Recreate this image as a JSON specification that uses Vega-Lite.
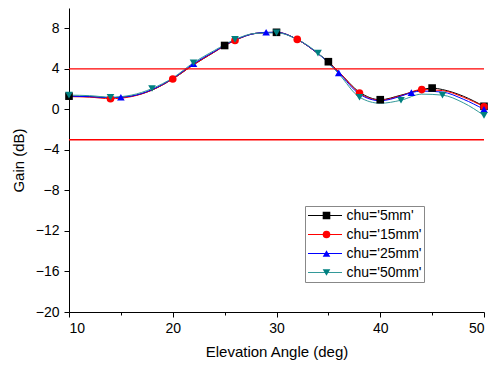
{
  "$schema": "https://vega.github.io/schema/vega-lite/v6.json",
  "width": 415,
  "height": 304,
  "autosize": "none",
  "padding": {"left": 69, "top": 8, "right": 15, "bottom": 57},
  "background": "white",
  "config": {
    "view": {"stroke": null},
    "font": "Liberation Sans",
    "axis": {
      "grid": false,
      "domainColor": "#000000",
      "domainWidth": 1,
      "tickColor": "#000000",
      "tickWidth": 1,
      "labelColor": "#000000",
      "labelFont": "Liberation Sans",
      "labelFontSize": 14,
      "titleColor": "#000000",
      "titleFont": "Liberation Sans",
      "titleFontSize": 15,
      "titleFontWeight": "normal",
      "labelOverlap": false
    }
  },
  "datasets": {
    "limits": [{"gain": 4}, {"gain": -3}],
    "curves": [
      {"series": "chu='5mm'", "angle": 10, "gain": 1.3},
      {"series": "chu='5mm'", "angle": 12, "gain": 1.25},
      {"series": "chu='5mm'", "angle": 14, "gain": 1.15},
      {"series": "chu='5mm'", "angle": 15, "gain": 1.2},
      {"series": "chu='5mm'", "angle": 16, "gain": 1.3},
      {"series": "chu='5mm'", "angle": 18, "gain": 1.9},
      {"series": "chu='5mm'", "angle": 20, "gain": 3.0},
      {"series": "chu='5mm'", "angle": 22, "gain": 4.4},
      {"series": "chu='5mm'", "angle": 24, "gain": 5.65},
      {"series": "chu='5mm'", "angle": 25, "gain": 6.3},
      {"series": "chu='5mm'", "angle": 26, "gain": 6.8},
      {"series": "chu='5mm'", "angle": 28, "gain": 7.5},
      {"series": "chu='5mm'", "angle": 30, "gain": 7.6},
      {"series": "chu='5mm'", "angle": 32, "gain": 6.9},
      {"series": "chu='5mm'", "angle": 34, "gain": 5.5},
      {"series": "chu='5mm'", "angle": 35, "gain": 4.7},
      {"series": "chu='5mm'", "angle": 36, "gain": 3.7},
      {"series": "chu='5mm'", "angle": 38, "gain": 1.7},
      {"series": "chu='5mm'", "angle": 40, "gain": 0.95},
      {"series": "chu='5mm'", "angle": 42, "gain": 1.4},
      {"series": "chu='5mm'", "angle": 44, "gain": 1.95},
      {"series": "chu='5mm'", "angle": 45, "gain": 2.1},
      {"series": "chu='5mm'", "angle": 46, "gain": 1.95},
      {"series": "chu='5mm'", "angle": 48, "gain": 1.3},
      {"series": "chu='5mm'", "angle": 50, "gain": 0.3},
      {"series": "chu='15mm'", "angle": 10, "gain": 1.25},
      {"series": "chu='15mm'", "angle": 12, "gain": 1.2},
      {"series": "chu='15mm'", "angle": 14, "gain": 1.05},
      {"series": "chu='15mm'", "angle": 16, "gain": 1.25},
      {"series": "chu='15mm'", "angle": 18, "gain": 1.9},
      {"series": "chu='15mm'", "angle": 20, "gain": 3.0},
      {"series": "chu='15mm'", "angle": 22, "gain": 4.4},
      {"series": "chu='15mm'", "angle": 24, "gain": 5.65},
      {"series": "chu='15mm'", "angle": 26, "gain": 6.8},
      {"series": "chu='15mm'", "angle": 28, "gain": 7.5},
      {"series": "chu='15mm'", "angle": 30, "gain": 7.6},
      {"series": "chu='15mm'", "angle": 32, "gain": 6.9},
      {"series": "chu='15mm'", "angle": 34, "gain": 5.5},
      {"series": "chu='15mm'", "angle": 36, "gain": 3.7},
      {"series": "chu='15mm'", "angle": 38, "gain": 1.6},
      {"series": "chu='15mm'", "angle": 40, "gain": 0.9},
      {"series": "chu='15mm'", "angle": 42, "gain": 1.35},
      {"series": "chu='15mm'", "angle": 44, "gain": 1.95},
      {"series": "chu='15mm'", "angle": 46, "gain": 1.85},
      {"series": "chu='15mm'", "angle": 48, "gain": 1.2},
      {"series": "chu='15mm'", "angle": 50, "gain": 0.25},
      {"series": "chu='25mm'", "angle": 10, "gain": 1.3},
      {"series": "chu='25mm'", "angle": 12, "gain": 1.25},
      {"series": "chu='25mm'", "angle": 14, "gain": 1.15},
      {"series": "chu='25mm'", "angle": 15, "gain": 1.2},
      {"series": "chu='25mm'", "angle": 16, "gain": 1.3},
      {"series": "chu='25mm'", "angle": 18, "gain": 1.95},
      {"series": "chu='25mm'", "angle": 20, "gain": 3.05},
      {"series": "chu='25mm'", "angle": 22, "gain": 4.5},
      {"series": "chu='25mm'", "angle": 24, "gain": 5.7},
      {"series": "chu='25mm'", "angle": 26, "gain": 6.85},
      {"series": "chu='25mm'", "angle": 28, "gain": 7.5},
      {"series": "chu='25mm'", "angle": 29, "gain": 7.6},
      {"series": "chu='25mm'", "angle": 30, "gain": 7.6},
      {"series": "chu='25mm'", "angle": 32, "gain": 6.9},
      {"series": "chu='25mm'", "angle": 34, "gain": 5.5},
      {"series": "chu='25mm'", "angle": 36, "gain": 3.6},
      {"series": "chu='25mm'", "angle": 38, "gain": 1.5},
      {"series": "chu='25mm'", "angle": 40, "gain": 0.85},
      {"series": "chu='25mm'", "angle": 42, "gain": 1.3},
      {"series": "chu='25mm'", "angle": 43, "gain": 1.65},
      {"series": "chu='25mm'", "angle": 44, "gain": 1.8},
      {"series": "chu='25mm'", "angle": 46, "gain": 1.7},
      {"series": "chu='25mm'", "angle": 48, "gain": 1.0},
      {"series": "chu='25mm'", "angle": 50, "gain": 0.0},
      {"series": "chu='50mm'", "angle": 10, "gain": 1.4},
      {"series": "chu='50mm'", "angle": 12, "gain": 1.35},
      {"series": "chu='50mm'", "angle": 14, "gain": 1.2},
      {"series": "chu='50mm'", "angle": 16, "gain": 1.4},
      {"series": "chu='50mm'", "angle": 18, "gain": 2.05},
      {"series": "chu='50mm'", "angle": 20, "gain": 3.1},
      {"series": "chu='50mm'", "angle": 22, "gain": 4.6},
      {"series": "chu='50mm'", "angle": 24, "gain": 5.8},
      {"series": "chu='50mm'", "angle": 26, "gain": 6.9},
      {"series": "chu='50mm'", "angle": 28, "gain": 7.5},
      {"series": "chu='50mm'", "angle": 30, "gain": 7.55},
      {"series": "chu='50mm'", "angle": 32, "gain": 6.9},
      {"series": "chu='50mm'", "angle": 34, "gain": 5.55},
      {"series": "chu='50mm'", "angle": 36, "gain": 3.5},
      {"series": "chu='50mm'", "angle": 38, "gain": 1.2},
      {"series": "chu='50mm'", "angle": 40, "gain": 0.6},
      {"series": "chu='50mm'", "angle": 42, "gain": 0.9},
      {"series": "chu='50mm'", "angle": 44, "gain": 1.5},
      {"series": "chu='50mm'", "angle": 46, "gain": 1.4},
      {"series": "chu='50mm'", "angle": 48, "gain": 0.65},
      {"series": "chu='50mm'", "angle": 50, "gain": -0.6}
    ],
    "markers": [
      {"name": "5mm", "angle": 10, "gain": 1.3},
      {"name": "5mm", "angle": 25, "gain": 6.3},
      {"name": "5mm", "angle": 30, "gain": 7.6},
      {"name": "5mm", "angle": 35, "gain": 4.7},
      {"name": "5mm", "angle": 40, "gain": 0.95},
      {"name": "5mm", "angle": 45, "gain": 2.1},
      {"name": "5mm", "angle": 50, "gain": 0.3},
      {"name": "15mm", "angle": 14, "gain": 1.05},
      {"name": "15mm", "angle": 20, "gain": 3.0},
      {"name": "15mm", "angle": 26, "gain": 6.8},
      {"name": "15mm", "angle": 32, "gain": 6.9},
      {"name": "15mm", "angle": 38, "gain": 1.6},
      {"name": "15mm", "angle": 44, "gain": 1.95},
      {"name": "15mm", "angle": 50, "gain": 0.25},
      {"name": "25mm", "angle": 15, "gain": 1.2},
      {"name": "25mm", "angle": 22, "gain": 4.5},
      {"name": "25mm", "angle": 29, "gain": 7.6},
      {"name": "25mm", "angle": 36, "gain": 3.6},
      {"name": "25mm", "angle": 43, "gain": 1.65},
      {"name": "25mm", "angle": 50, "gain": 0.0},
      {"name": "50mm", "angle": 10, "gain": 1.4},
      {"name": "50mm", "angle": 14, "gain": 1.2},
      {"name": "50mm", "angle": 18, "gain": 2.05},
      {"name": "50mm", "angle": 22, "gain": 4.6},
      {"name": "50mm", "angle": 26, "gain": 6.9},
      {"name": "50mm", "angle": 30, "gain": 7.55},
      {"name": "50mm", "angle": 34, "gain": 5.55},
      {"name": "50mm", "angle": 38, "gain": 1.2},
      {"name": "50mm", "angle": 42, "gain": 0.9},
      {"name": "50mm", "angle": 46, "gain": 1.4},
      {"name": "50mm", "angle": 50, "gain": -0.6}
    ]
  },
  "layer": [
    {
      "data": {"name": "curves"},
      "mark": {"type": "line", "interpolate": "monotone", "strokeWidth": 1},
      "encoding": {
        "x": {
          "field": "angle",
          "type": "quantitative",
          "title": "Elevation Angle (deg)",
          "scale": {"domain": [10, 50], "nice": false, "zero": false},
          "axis": {
            "values": [10, 15, 20, 25, 30, 35, 40, 45, 50],
            "labelExpr": "datum.value % 10 === 0 ? datum.label : ''",
            "tickSize": {"condition": {"test": "datum.value % 10 === 0", "value": 5}, "value": 3},
            "labelPadding": 4,
            "titlePadding": 9
          }
        },
        "y": {
          "field": "gain",
          "type": "quantitative",
          "title": "Gain (dB)",
          "scale": {"domain": [-20, 10], "nice": false, "zero": false},
          "axis": {
            "values": [-20, -18, -16, -14, -12, -10, -8, -6, -4, -2, 0, 2, 4, 6, 8, 10],
            "labelExpr": "datum.value % 4 === 0 ? datum.label : ''",
            "tickSize": {"condition": {"test": "datum.value % 4 === 0", "value": 5}, "value": 3},
            "labelPadding": 5,
            "titlePadding": 9
          }
        },
        "stroke": {
          "field": "series",
          "type": "nominal",
          "scale": {
            "domain": ["chu='5mm'", "chu='15mm'", "chu='25mm'", "chu='50mm'"],
            "range": ["#000000", "#ff0000", "#0000ff", "#339999"]
          },
          "legend": {
            "orient": "none",
            "legendX": 236,
            "legendY": 198,
            "title": null,
            "symbolType": "stroke",
            "symbolSize": 1156,
            "symbolStrokeWidth": 1,
            "labelFont": "Liberation Sans",
            "labelFontSize": 14,
            "labelColor": "#000000",
            "labelOffset": 4,
            "padding": 2.5,
            "rowPadding": 5,
            "clipHeight": 14,
            "strokeColor": "#888888"
          }
        }
      }
    },
    {
      "data": {"name": "limits"},
      "mark": {"type": "rule", "color": "#ff0000", "strokeWidth": 1.3},
      "encoding": {
        "y": {"field": "gain", "type": "quantitative"}
      }
    },
    {
      "data": {"name": "markers"},
      "mark": {"type": "point", "filled": true, "opacity": 1, "size": 58, "strokeWidth": 0},
      "encoding": {
        "x": {"field": "angle", "type": "quantitative"},
        "y": {"field": "gain", "type": "quantitative"},
        "fill": {
          "field": "name",
          "type": "nominal",
          "scale": {
            "domain": ["5mm", "15mm", "25mm", "50mm"],
            "range": ["#000000", "#ff0000", "#0000ff", "#008080"]
          },
          "legend": {
            "orient": "none",
            "legendX": 248,
            "legendY": 198,
            "title": null,
            "symbolSize": 58,
            "symbolStrokeWidth": 0,
            "labelExpr": "''",
            "labelFontSize": 14,
            "padding": 2.5,
            "rowPadding": 5,
            "clipHeight": 14
          }
        },
        "shape": {
          "field": "name",
          "type": "nominal",
          "scale": {
            "domain": ["5mm", "15mm", "25mm", "50mm"],
            "range": ["square", "circle", "triangle-up", "triangle-down"]
          },
          "legend": {
            "orient": "none",
            "legendX": 248,
            "legendY": 198,
            "title": null,
            "symbolSize": 58,
            "symbolStrokeWidth": 0,
            "labelExpr": "''",
            "labelFontSize": 14,
            "padding": 2.5,
            "rowPadding": 5,
            "clipHeight": 14
          }
        }
      }
    }
  ]
}
